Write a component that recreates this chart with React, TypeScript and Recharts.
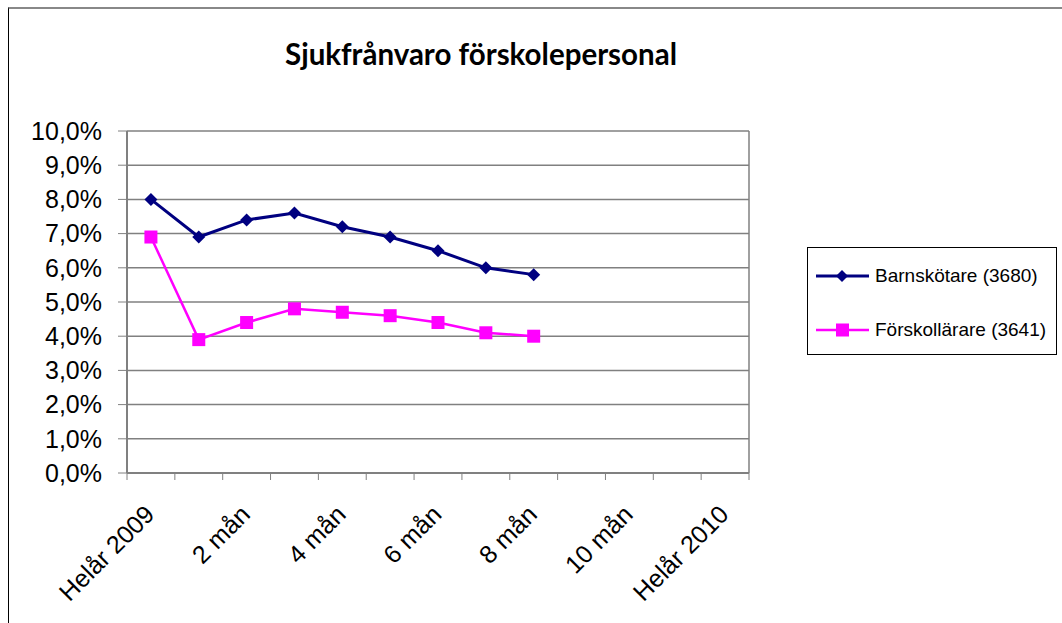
import { LineChart, Line, XAxis, YAxis, CartesianGrid } from 'recharts';

const months = [
    "Helår 2009", "1 mån", "2 mån", "3 mån", "4 mån", "5 mån", "6 mån",
    "7 mån", "8 mån", "9 mån", "10 mån", "11 mån", "Helår 2010"
];
const barnskotare = [8.0, 6.9, 7.4, 7.6, 7.2, 6.9, 6.5, 6.0, 5.8];
const forskollarare = [6.9, 3.9, 4.4, 4.8, 4.7, 4.6, 4.4, 4.1, 4.0];
const yTicks = [0, 1, 2, 3, 4, 5, 6, 7, 8, 9, 10];

const seriesNames = ["Barnskötare (3680)", "Förskollärare (3641)"];
const NAVY = "#000080";
const PINK = "#ff00ff";
const FONT = "'Liberation Sans', Arial, sans-serif";

const data = months.map((m, i) => ({
    month: m,
    barn: barnskotare[i],
    forsk: forskollarare[i],
}));

const fmt = (v: number) => v.toFixed(1).replace('.', ',') + '%';

function Diamond(props: any) {
    const { cx, cy } = props;
    if (cx == null || cy == null) return null;
    const r = 6.5;
    return <path d={`M${cx},${cy - r}L${cx + r},${cy}L${cx},${cy + r}L${cx - r},${cy}Z`} fill={NAVY} />;
}

function Square(props: any) {
    const { cx, cy } = props;
    if (cx == null || cy == null) return null;
    return <rect x={cx - 6.5} y={cy - 6.5} width={13} height={13} fill={PINK} />;
}

function XTick(props: any) {
    const { x, y, payload, index } = props;
    const half = payload.offset || 0;
    const last = index === months.length - 1;
    return (
        <g>
            <line x1={x - half} x2={x - half} y1={y} y2={y + 7} stroke="#808080" strokeWidth={1} />
            {last && <line x1={x + half} x2={x + half} y1={y} y2={y + 7} stroke="#808080" strokeWidth={1} />}
            {index % 2 === 0 && (
                <text transform={`translate(${x + 5},${y + 43}) rotate(-45)`} textAnchor="end"
                    fontSize={25} fontFamily={FONT} fill="#000">
                    {payload.value}
                </text>
            )}
        </g>
    );
}

function LegendBox() {
    const rows = [
        { name: seriesNames[0], color: NAVY, shape: 'diamond' },
        { name: seriesNames[1], color: PINK, shape: 'square' },
    ];
    return (
        <div style={{ position: 'absolute', left: 807, top: 247, border: '1px solid #000', width: 250, height: 108, background: '#fff', boxSizing: 'border-box', paddingTop: 14 }}>
            {rows.map((r, i) => (
                <div key={i} style={{ display: 'flex', alignItems: 'center', height: 27, marginBottom: i === 0 ? 27 : 0, marginLeft: 8 }}>
                    <svg width={59} height={16}>
                        <line x1={0} x2={53} y1={8} y2={8} stroke={r.color} strokeWidth={r.shape === 'diamond' ? 3 : 2.5} />
                        {r.shape === 'diamond'
                            ? <path d="M26,2L32,8L26,14L20,8Z" fill={r.color} />
                            : <rect x={20} y={1.5} width={13} height={13} fill={r.color} />}
                    </svg>
                    <span style={{ fontFamily: FONT, fontSize: 19, color: '#000', whiteSpace: 'nowrap' }}>{r.name}</span>
                </div>
            ))}
        </div>
    );
}

export default function App() {
    return (
        <div style={{ position: 'fixed', left: 0, top: 0, width: 1062, height: 623, overflow: 'hidden', background: '#fff' }}>
            <div style={{ position: 'absolute', left: 8, top: 7, width: 1200, height: 800, borderTop: '2px solid #888', borderLeft: '1px solid #000' }} />
            <div style={{ position: 'absolute', left: 127, width: 708, top: 36, textAlign: 'center', fontFamily: "Lato, 'Open Sans', sans-serif", fontWeight: 700, fontSize: 29.5, color: '#000' }}>
                Sjukfrånvaro förskolepersonal
            </div>
            <div style={{ position: 'absolute', left: 0, top: 0 }}>
                <LineChart width={1062} height={623} data={data} margin={{ top: 131, right: 313, bottom: 0, left: 0 }}>
                    <CartesianGrid horizontal vertical
                        stroke="#808080" strokeWidth={1.5}
                        verticalCoordinatesGenerator={({ offset }: any) => [offset.left + offset.width]} />
                    <XAxis dataKey="month" scale="band" interval={0} height={150}
                        tick={<XTick />} tickLine={false} tickSize={0} tickMargin={0}
                        axisLine={{ stroke: '#808080', strokeWidth: 2 }} />
                    <YAxis domain={[0, 10]} ticks={yTicks} interval={0} width={127} tickFormatter={fmt}
                        tickSize={9} tickMargin={16}
                        tick={{ fontSize: 25, fontFamily: FONT, fill: '#000' }}
                        tickLine={{ stroke: '#808080' }}
                        axisLine={{ stroke: '#808080', strokeWidth: 2 }} />
                    <Line dataKey="barn" name={seriesNames[0]} stroke={NAVY} strokeWidth={3}
                        dot={<Diamond />} activeDot={false} isAnimationActive={false} />
                    <Line dataKey="forsk" name={seriesNames[1]} stroke={PINK} strokeWidth={2.5}
                        dot={<Square />} activeDot={false} isAnimationActive={false} />
                </LineChart>
            </div>
            <LegendBox />
        </div>
    );
}
